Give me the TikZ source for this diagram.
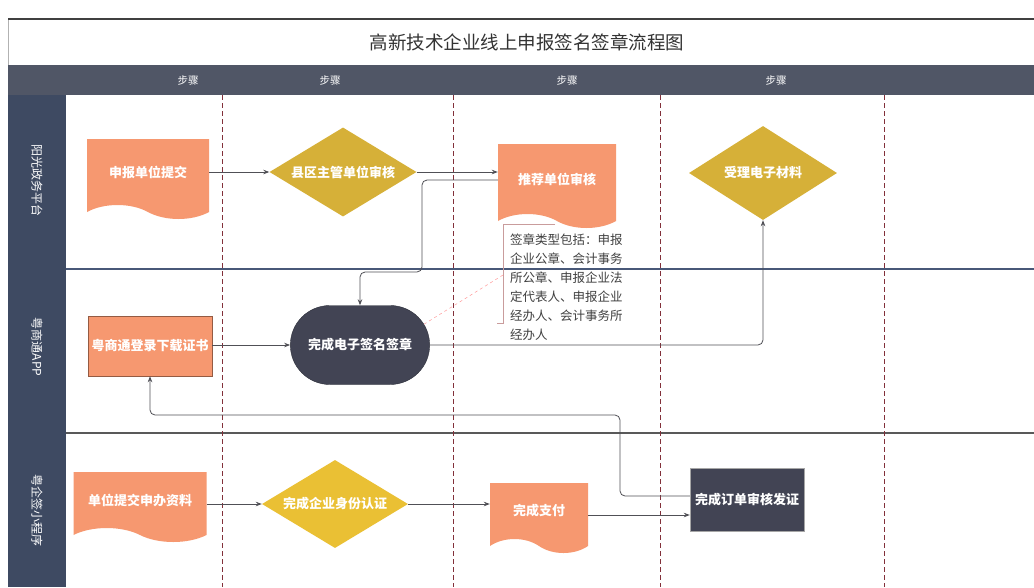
\documentclass[tikz,border=0pt]{standalone}
\usepackage{fontspec}
\setmainfont{Noto Sans CJK SC}
\usetikzlibrary{shapes.geometric, shapes.symbols, shapes.misc, arrows.meta, calc}

\definecolor{docorange}{RGB}{246,152,112}
\definecolor{decgold}{RGB}{214,176,56}
\definecolor{decyellow}{RGB}{234,192,52}
\definecolor{darknode}{RGB}{66,68,84}
\definecolor{lanedark}{RGB}{62,74,98}
\definecolor{headdark}{RGB}{80,86,102}
\definecolor{stepred}{RGB}{130,48,58}
\definecolor{linegray}{RGB}{80,80,86}
\definecolor{sepblue}{RGB}{72,88,120}

\newcommand{\shapetextfont}{\fontsize{13}{13}\selectfont\bfseries}

\begin{document}
\begin{tikzpicture}[x=1pt, y=-1pt]
    % Define styles
    \tikzset{
        titletext/.style={font=\fontsize{18.5}{18.5}\selectfont, text=black!80},
        lanelabel/.style={text=white, font=\fontsize{12}{12}\selectfont, rotate=-90},
        steplabel/.style={text=white, font=\fontsize{10.5}{10.5}\selectfont},
        stepline/.style={stepred, line width=1pt, dash pattern=on 5pt off 3pt},
        docbox/.style={tape, tape bend top=none, tape bend bottom=out and in, tape bend height=14pt,
            fill=docorange, text=white, inner sep=2pt, font=\shapetextfont},
        decision/.style={diamond, aspect=1.65, fill=decgold, text=white, inner sep=0pt, font=\shapetextfont},
        actionbox/.style={rectangle, fill=docorange, draw=docorange!60!black, thin, text=white, font=\shapetextfont},
        darkbox/.style={rectangle, fill=darknode, draw=gray!70, thin, text=white, font=\shapetextfont},
        terminal/.style={rounded rectangle, fill=darknode, draw=darknode!70!black, text=white, font=\shapetextfont},
        notetext/.style={align=left, text=black!75, inner sep=0pt, font=\fontsize{12.5}{19}\selectfont},
        notebrace/.style={gray!70!red!60, line width=0.7pt},
        calloutline/.style={red!40, dashed, line width=0.5pt},
        flow/.style={linegray, line width=0.8pt, -{Stealth[length=6pt,width=4.5pt]}, rounded corners=5pt}
    }
    \useasboundingbox (0,0) rectangle (1034,587);

    % Frame, title and header
    \fill[white] (0,0) rectangle (1034,587);
    \draw[gray!60, line width=0.8pt] (8,587) -- (8,19);
    \draw[black!75, line width=1.5pt] (8,19) -- (1034,19);
    \node[titletext] (title) at (527,42) {高新技术企业线上申报签名签章流程图};
    \fill[headdark] (8,65) rectangle (1034,95);
    \fill[lanedark] (8,95) rectangle (66,587);
    \foreach \x [count=\i] in {188,330,567,776}
        \node[steplabel] (step\i) at (\x,80) {步骤};

    % Lanes
    \node[lanelabel] (laneA) at (37,180) {阳光政务平台};
    \node[lanelabel] (laneB) at (37,347) {粤商通APP};
    \node[lanelabel] (laneC) at (37,510) {粤企签小程序};
    \draw[sepblue, line width=2.5pt] (66,269) -- (1034,269);
    \draw[black!65, line width=2pt] (66,433) -- (1034,433);
    \foreach \x in {222,453,660,884}
        \draw[stepline] (\x,95) -- (\x,587);

    % Lane 1
    \node[docbox, minimum width=122, minimum height=80] (submit) at (148,172) {申报单位提交};
    \node[decision, minimum width=147, minimum height=89] (county) at (343,172) {县区主管单位审核};
    \node[docbox, minimum width=118, minimum height=84] (recommend) at (557,179) {推荐单位审核};
    \node[decision, minimum width=148, minimum height=94] (accept) at (763,173) {受理电子材料};

    % Lane 2
    \node[actionbox, minimum width=113, minimum height=60] (cert) at (150,346) {粤商通登录下载证书};
    \node[terminal, minimum width=146, minimum height=79] (sign) at (360,345) {完成电子签名签章};
    \node[notetext, anchor=north west] (note) at (510,234) {签章类型包括：申报\\企业公章、会计事务\\所公章、申报企业法\\定代表人、申报企业\\经办人、会计事务所\\经办人};
    \coordinate (noteTip) at (503,275);
    \draw[notebrace] (555,224) -- (503,224) -- (503,323) -- (497,323);
    \draw[calloutline] (sign.18) -- (noteTip);

    % Lane 3
    \node[docbox, minimum width=133, minimum height=70] (apply) at (140,500) {单位提交申办资料};
    \node[decision, fill=decyellow, minimum width=146, minimum height=88] (auth) at (335,504) {完成企业身份认证};
    \node[docbox, minimum width=98, minimum height=70] (pay) at (539,511) {完成支付};
    \node[darkbox, minimum width=114, minimum height=63] (issue) at (747,500) {完成订单审核发证};

    % Connectors
    \coordinate (bendA) at (422,272);
    \coordinate (bendB) at (620,415);
    \draw[flow] (submit.east |- county.west) -- (county.west);
    \draw[flow] (county.east) -- (county.east -| recommend.west);
    \draw[flow] ([yshift=-1pt]recommend.west) -| (bendA) -| (sign.north);
    \draw[flow] (sign.east) -| (accept.south);
    \draw[flow] (cert.east |- sign.west) -- (sign.west);
    \draw[flow] (apply.east |- auth.west) -- (auth.west);
    \draw[flow] (auth.east) -- (auth.east -| pay.west);
    \draw[flow] ([yshift=-4pt]pay.east) -- ([yshift=-4pt]pay.east -| issue.west);
    \draw[flow] ([yshift=4pt]issue.west) -| (bendB) -| (cert.south);
\end{tikzpicture}
\end{document}
